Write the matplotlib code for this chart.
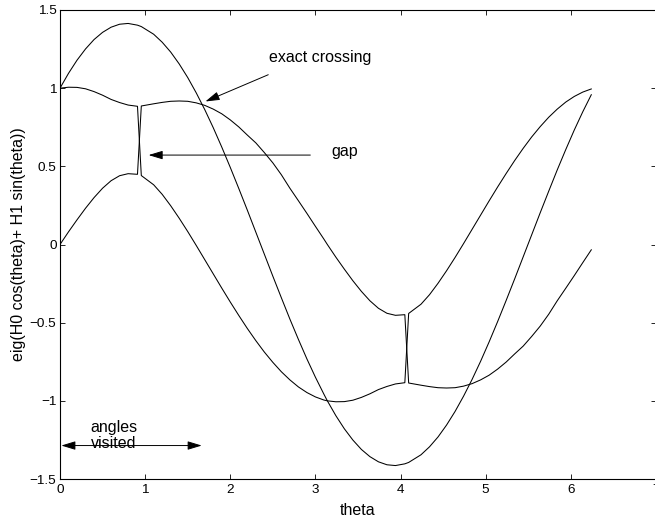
import matplotlib
matplotlib.use("Agg")
import matplotlib.pyplot as plt

plt.rcParams['font.family'] = ['Liberation Sans', 'DejaVu Sans']

# sampled angles
theta = [0.0, 0.1, 0.2, 0.3, 0.4, 0.5, 0.6, 0.7, 0.8, 0.91, 0.955, 1.1, 1.2, 1.3, 1.4, 1.5,
         1.6, 1.7, 1.8, 1.9, 2.0, 2.1, 2.2, 2.3, 2.4, 2.5, 2.6, 2.7, 2.8, 2.9, 3.0, 3.1,
         3.14, 3.24, 3.34, 3.44, 3.54, 3.64, 3.74, 3.84, 3.94, 4.05, 4.095, 4.24, 4.34, 4.44, 4.54, 4.64,
         4.74, 4.84, 4.94, 5.04, 5.14, 5.24, 5.34, 5.44, 5.54, 5.64, 5.74, 5.84, 5.94, 6.04, 6.14, 6.24]

# tracked eigenvalue branches
eig_a = [1.000, 1.095, 1.179, 1.251, 1.311, 1.357, 1.390, 1.409, 1.414, 1.403, 1.394, 1.345, 1.294, 1.231, 1.155, 1.068,
         0.970, 0.863, 0.747, 0.623, 0.493, 0.358, 0.220, 0.079, -0.062, -0.203, -0.341, -0.477, -0.607, -0.732, -0.849, -0.958,
         -1.000, -1.095, -1.179, -1.251, -1.311, -1.357, -1.390, -1.409, -1.414, -1.403, -1.394, -1.345, -1.294, -1.231, -1.155, -1.068,
         -0.970, -0.863, -0.747, -0.623, -0.493, -0.358, -0.220, -0.079, 0.062, 0.203, 0.341, 0.477, 0.607, 0.732, 0.849, 0.958]

eig_b = [1.000, 1.006, 1.005, 0.996, 0.978, 0.955, 0.928, 0.908, 0.892, 0.884, 0.441, 0.382, 0.321, 0.248, 0.168, 0.083,
         -0.006, -0.097, -0.188, -0.279, -0.368, -0.454, -0.537, -0.615, -0.688, -0.754, -0.814, -0.866, -0.911, -0.947, -0.975, -0.995,
         -1.000, -1.006, -1.005, -0.996, -0.978, -0.955, -0.928, -0.908, -0.892, -0.884, -0.441, -0.382, -0.321, -0.248, -0.168, -0.083,
         0.006, 0.097, 0.188, 0.279, 0.368, 0.454, 0.537, 0.615, 0.688, 0.754, 0.814, 0.866, 0.911, 0.947, 0.975, 0.995]

eig_c = [0.000, 0.081, 0.158, 0.232, 0.300, 0.360, 0.408, 0.440, 0.453, 0.449, 0.886, 0.900, 0.909, 0.916, 0.918, 0.916,
         0.906, 0.890, 0.866, 0.836, 0.797, 0.752, 0.700, 0.650, 0.588, 0.522, 0.446, 0.360, 0.280, 0.199, 0.116, 0.034,
         0.000, -0.081, -0.158, -0.232, -0.300, -0.360, -0.408, -0.440, -0.453, -0.449, -0.886, -0.900, -0.909, -0.916, -0.918, -0.916,
         -0.906, -0.890, -0.866, -0.836, -0.797, -0.752, -0.700, -0.650, -0.588, -0.522, -0.446, -0.360, -0.280, -0.199, -0.116, -0.034]

x_ticks = [0, 1, 2, 3, 4, 5, 6, 7]
y_ticks = [-1.5, -1.0, -0.5, 0.0, 0.5, 1.0, 1.5]
y_tick_labels = ['\u22121.5', '\u22121', '\u22120.5', '0', '0.5', '1', '1.5']

fig = plt.figure(figsize=(6.55, 5.20), dpi=100)
ax = fig.add_axes([60 / 655, 41 / 520, 596 / 655, 469 / 520])

for series in (eig_a, eig_b, eig_c):
    ax.plot(theta, series, color='black', lw=0.75)

ax.set_xlim(0, 7)
ax.set_ylim(-1.5, 1.5)
ax.set_xticks(x_ticks)
ax.set_xticklabels([str(t) for t in x_ticks])
ax.set_yticks(y_ticks)
ax.set_yticklabels(y_tick_labels)
ax.tick_params(direction='in', length=3.6, width=0.6, top=True, right=True,
               labelsize=9.7, colors='black')
ax.tick_params(axis='x', pad=3.5)
ax.tick_params(axis='y', pad=2.5)
for sp in ax.spines.values():
    sp.set_linewidth(0.8)

ax.set_xlabel('theta', fontsize=11.5, labelpad=5)
ax.set_ylabel('eig(H0 cos(theta)+ H1 sin(theta))', fontsize=11.5, labelpad=3)

head = dict(color='black', lw=0.7, shrinkA=0, shrinkB=0, mutation_scale=10)
ax.annotate('', xy=(1.708, 0.915), xytext=(2.446, 1.086),
            arrowprops=dict(arrowstyle='-|>,head_length=0.86,head_width=0.26', **head))
ax.text(2.456, 1.198, 'exact crossing', fontsize=11.5, ha='left', va='center')

ax.annotate('', xy=(1.04, 0.572), xytext=(2.94, 0.572),
            arrowprops=dict(arrowstyle='-|>,head_length=0.86,head_width=0.26', **head))
ax.text(3.19, 0.595, 'gap', fontsize=11.5, ha='left', va='center')

ax.annotate('', xy=(1.665, -1.286), xytext=(0.015, -1.286),
            arrowprops=dict(arrowstyle='<|-|>,head_length=0.86,head_width=0.26', **head))
ax.text(0.36, -1.222, 'angles\nvisited', fontsize=11.5, ha='left', va='center',
        linespacing=1.15)

fig.savefig('out.png', dpi=100)
